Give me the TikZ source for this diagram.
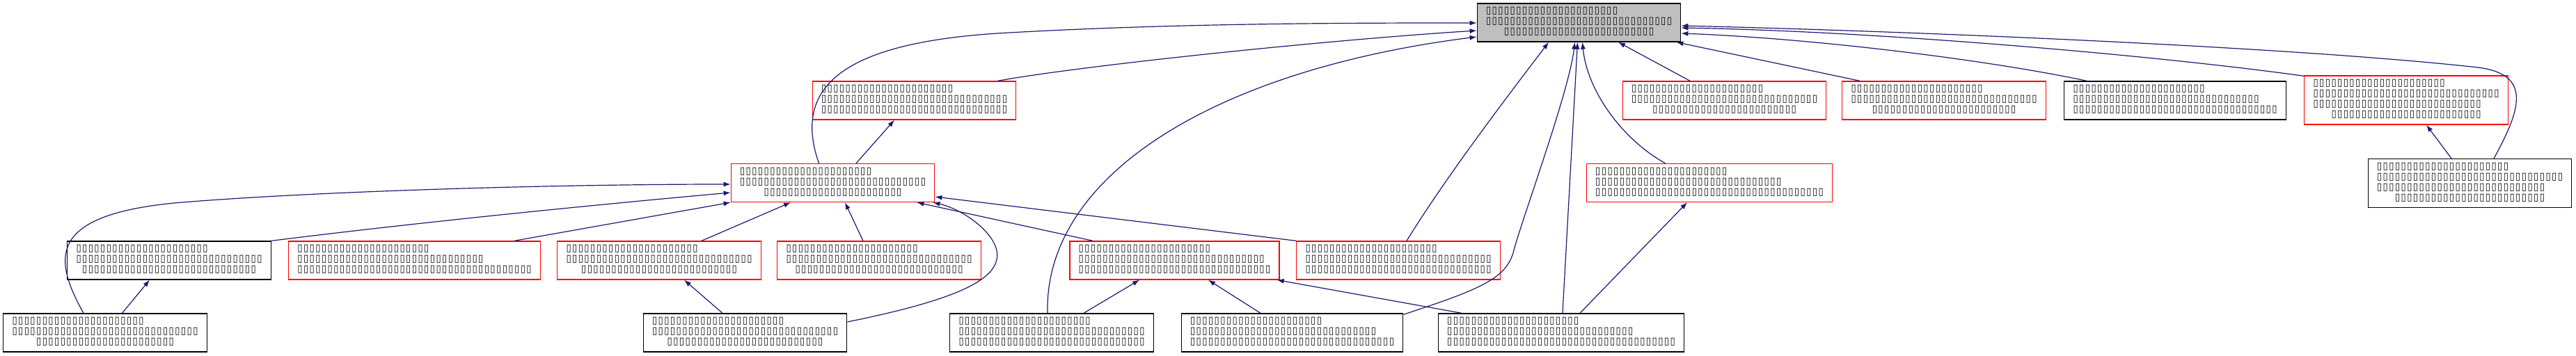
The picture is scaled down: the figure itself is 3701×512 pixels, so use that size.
\documentclass[tikz,border=0pt]{standalone}
\usepackage{graphicx}
\usepackage{fontspec}
\newfontfamily\boxfont{DejaVu Sans}
\usepackage{tikz}
\usetikzlibrary{arrows.meta, calc}
\definecolor{edgeblue}{HTML}{191970}
\definecolor{rootgray}{HTML}{BFBFBF}

\newcommand\onetofu{\makebox[4.33pt]{\raisebox{-0.5pt}{\resizebox{3.6pt}{5.5pt}{\raisebox{\depth}{▯}}}}}
\newcommand\tofu[1]{\ifnum#1>0 \onetofu\expandafter\tofu\expandafter{\the\numexpr#1-1\relax}\fi}
\newcommand\tlines[3]{\begin{tabular}{@{}l@{}}\tofu{#1}\\\tofu{#2}\\\multicolumn{1}{@{}c@{}}{\tofu{#3}}\end{tabular}}
\newcommand\qlines[4]{\begin{tabular}{@{}l@{}}\tofu{#1}\\\tofu{#2}\\\tofu{#3}\\\multicolumn{1}{@{}c@{}}{\tofu{#4}}\end{tabular}}

\begin{document}
\begin{tikzpicture}[
      x=0.5pt, y=-0.5pt,
      file/.style={draw=black, line width=0.65pt, inner xsep=6pt, inner ysep=0pt,
                   minimum height=27.5pt, font=\boxfont\bfseries\fontsize{7.2}{7.5}\selectfont},
      redfile/.style={file, draw=red},
      rootfile/.style={file, fill=rootgray},
      tall/.style={minimum height=35pt},
      link/.style={-{Latex[length=5pt,width=3.6pt]}, edgeblue, line width=0.6pt}
    ]
    \useasboundingbox (0,0) rectangle (3701,512);

    \node[rootfile] (main) at (2268.5,32.5) {\tlines{22}{31}{25}};

    \node[redfile] (ua) at (1313.5,144.5) {\tlines{22}{31}{31}};
    \node[redfile] (ub) at (2477.5,144.5) {\tlines{22}{31}{24}};
    \node[redfile] (uc) at (2793,144.5) {\tlines{22}{31}{24}};
    \node[file] (ud) at (3125,144.5) {\tlines{22}{31}{34}};
    \node[redfile, tall] (ue) at (3457,144) {\qlines{22}{31}{28}{25}};

    \node[redfile] (mf) at (1196.5,263) {\tlines{22}{31}{23}};
    \node[redfile] (mr) at (2456,263) {\tlines{22}{31}{38}};
    \node[file, tall] (mx) at (3548.5,263.5) {\qlines{22}{31}{28}{25}};

    \node[file] (la) at (243,374.5) {\tlines{22}{31}{29}};
    \node[redfile] (lb) at (595.5,374.5) {\tlines{22}{31}{39}};
    \node[redfile] (lc) at (947,374.5) {\tlines{22}{31}{26}};
    \node[redfile] (ld) at (1263,374.5) {\tlines{22}{31}{28}};
    \node[redfile] (le) at (1687.5,374.5) {\tlines{22}{31}{32}};
    \node[redfile] (lf) at (2009,374.5) {\tlines{22}{31}{31}};

    \node[file] (ba) at (151,478.5) {\tlines{22}{31}{23}};
    \node[file] (bb) at (1070.5,478.5) {\tlines{22}{31}{26}};
    \node[file] (bc) at (1511,478.5) {\tlines{22}{31}{31}};
    \node[file] (bd) at (1856.5,478.5) {\tlines{22}{31}{34}};
    \node[file] (be) at (2243,478.5) {\tlines{22}{31}{38}};

    \draw[link] ($(mf.north)+(-20,0)$) .. controls (1140,130) and (1200,60) .. (1450,47)
      .. controls (1700,33) and (1950,33) .. ($(main.west)+(0,0.5)$);
    \draw[link] ($(ua.north)+(120,0)$) .. controls (1550,95) and (1900,58) .. ($(main.west)+(0,11.5)$);
    \draw[link] ($(bc.north)+(-6,0)$) .. controls (1500,250) and (1750,100) .. ($(main.west)+(0,20.5)$);
    \draw[link] ($(lf.north)+(12,0)$) .. controls (2080,250) and (2180,120) .. ($(main.south)+(-43.5,0)$);
    \draw[link] ($(bd.north east)+(0,2)$) .. controls (2130,415) and (2165,400) .. (2175,360)
      .. controls (2185,320) and (2255,130) .. ($(main.south)+(-6,0)$);
    \draw[link] ($(be.north)+(2,0)$) -- ($(main.south)+(-2,0)$);
    \draw[link] ($(mr.north)+(-63.5,0)$) .. controls (2330,200) and (2280,130) .. ($(main.south)+(5,0)$);
    \draw[link] ($(ub.north)+(-49.5,0)$) -- ($(main.south)+(56.5,0)$);
    \draw[link] ($(uc.north)+(-121,0)$) -- ($(main.south east)+(-7,0)$);
    \draw[link] ($(ud.north)+(-127,0)$) .. controls (2850,85) and (2600,55) .. ($(main.east)+(0,15.5)$);
    \draw[link] ($(ue.north west)+(0,1)$) .. controls (3100,80) and (2700,45) .. ($(main.east)+(0,7.5)$);
    \draw[link] ($(mx.north)+(34.5,0)$) .. controls (3620,160) and (3640,107) .. (3560,97)
      .. controls (3300,68) and (2750,45) .. ($(main.east)+(0,4.5)$);

    \draw[link] ($(mf.north)+(33.5,0)$) -- ($(ua.south)+(-28.5,0)$);
    \draw[link] ($(mx.north)+(-26.5,0)$) -- ($(ue.south)+(29,0)$);

    \draw[link] (la.north east) .. controls (600,320) and (850,295) .. ($(mf.west)+(0,14)$);
    \draw[link] ($(lb.north)+(143.5,0)$) -- (mf.south west);
    \draw[link] ($(lc.north)+(61,0)$) -- ($(mf.south)+(-60.5,0)$);
    \draw[link] ($(ld.north)+(-23,0)$) -- ($(mf.south)+(17.5,0)$);
    \draw[link] ($(le.north)+(-117.5,0)$) -- ($(mf.south east)+(-26,0)$);
    \draw[link] (lf.north west) -- ($(mf.east)+(0,20)$);
    \draw[link] ($(ba.north)+(-31,0)$) .. controls (75,370) and (70,310) .. (250,292)
      .. controls (450,275) and (800,265) .. ($(mf.west)+(0,2)$);
    \draw[link] ($(bb.east)+(0,-15.5)$) .. controls (1380,430) and (1440,400) .. (1432,360)
      .. controls (1425,330) and (1380,300) .. ($(mf.south east)+(-3,0)$);

    \draw[link] ($(ba.north)+(24.5,0)$) -- ($(la.south)+(-28,0)$);
    \draw[link] ($(bb.north)+(-32.5,0)$) -- ($(lc.south)+(36,0)$);
    \draw[link] ($(bc.north)+(46,0)$) -- ($(le.south)+(-50.5,0)$);
    \draw[link] ($(bd.north)+(-45.5,0)$) -- ($(le.south)+(48.5,0)$);
    \draw[link] ($(be.north)+(-143,0)$) -- ($(le.south east)+(-4,0)$);
    \draw[link] ($(be.north)+(27,0)$) -- ($(mr.south)+(-32,0)$);
  \end{tikzpicture}
\end{document}
